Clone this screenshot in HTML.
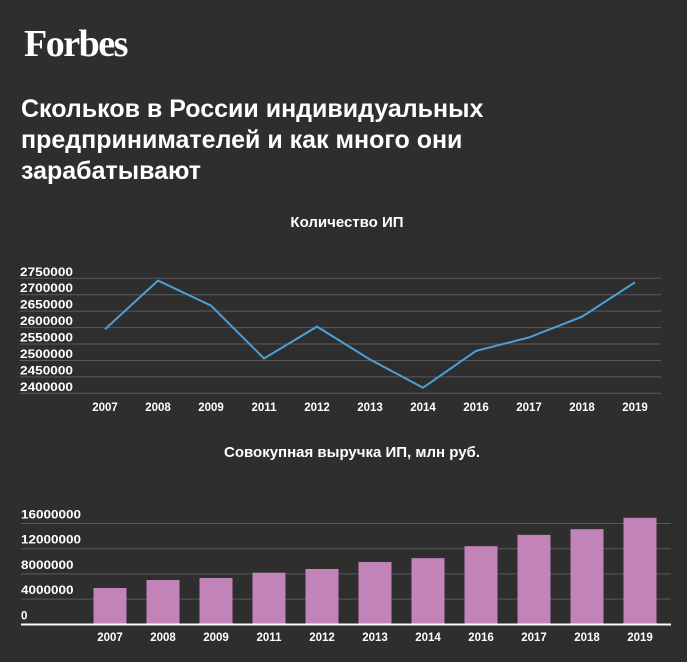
<!DOCTYPE html>
<html><head><meta charset="utf-8"><style>
html,body{margin:0;padding:0;background:#2e2e2e;}
body{width:687px;height:662px;overflow:hidden;position:relative;font-family:"Liberation Sans","Noto Sans CJK SC",sans-serif;color:#fff;}
.logo{position:absolute;left:24px;top:22px;font-family:"Liberation Serif",serif;font-weight:bold;font-size:38px;letter-spacing:-1.5px;}
.title{position:absolute;left:21px;top:94px;font-weight:bold;font-size:25px;line-height:31px;width:500px;}
svg{position:absolute;left:0;top:0;}
</style></head><body>
<div class="logo">Forbes</div>
<div class="title">Скольков в России индивидуальных<br>предпринимателей и как много они<br>зарабатывают</div>
<svg id="c" width="687" height="662"></svg>
<script>
const years=["2007","2008","2009","2011","2012","2013","2014","2016","2017","2018","2019"];
const counts=[2595000,2743000,2667000,2506000,2603000,2503000,2417000,2529000,2570000,2633000,2738000];
const countTicks=[2400000,2450000,2500000,2550000,2600000,2650000,2700000,2750000];
const revenue=[5760000,7030000,7350000,8190000,8780000,9890000,10500000,12400000,14200000,15100000,16900000];
const revTicks=[0,4000000,8000000,12000000,16000000];
const NS="http://www.w3.org/2000/svg";
const svg=document.getElementById('c');
function mk(t,a,txt){const e=document.createElementNS(NS,t);for(const k in a)e.setAttribute(k,a[k]);if(txt!=null)e.textContent=txt;svg.appendChild(e);return e;}
const xs=i=>105+i*53;
const y1=v=>393.3-(v-2400000)/350000*115;
let t=mk('text',{x:347,y:227,'text-anchor':'middle','font-size':15,'font-weight':'bold',fill:'#fff'},'Количество ИП');


countTicks.forEach(v=>{
 let l=mk('line',{x1:20,x2:661,y1:y1(v),y2:y1(v),stroke:'#5a5a5a','stroke-width':1});
 
 
 let tx=mk('text',{x:20,y:y1(v)-2.5,'font-size':11.5,'font-weight':'bold',fill:'#fff',textLength:53,lengthAdjust:'spacingAndGlyphs'},String(v));
 
 
});
let pl=mk('polyline',{points:counts.map((v,i)=>xs(i)+','+y1(v)).join(' '),fill:'none',stroke:'#4e9fd6','stroke-width':2});


years.forEach((y,i)=>{
 let tx=mk('text',{x:xs(i),y:411,'text-anchor':'middle','font-size':11.5,'font-weight':'bold',fill:'#fff'},y);
 
 
});
const y2=v=>624.3-v/4000000*25.2;
t=mk('text',{x:352,y:457,'text-anchor':'middle','font-size':15,'font-weight':'bold',fill:'#fff'},'Совокупная выручка ИП, млн руб.');


revTicks.forEach(v=>{
 if(v>0){let l=mk('line',{x1:21,x2:671,y1:y2(v),y2:y2(v),stroke:'#5a5a5a','stroke-width':1});
 
 }
 let tx=mk('text',{x:21,y:y2(v)-5,'font-size':11.5,'font-weight':'bold',fill:'#fff'},String(v));
 if(v>0){tx.setAttribute('textLength',String(v).length*7.5);tx.setAttribute('lengthAdjust','spacingAndGlyphs');}
 
 
});
revenue.forEach((v,i)=>{
 let r=mk('rect',{x:xs(i)-11.5,y:y2(v),width:33,height:624.3-y2(v),fill:'#c283b9'});
 
 
 let tx=mk('text',{x:xs(i)+5,y:641,'text-anchor':'middle','font-size':11.5,'font-weight':'bold',fill:'#fff'},years[i]);
 
 
});
let ax=mk('line',{x1:21,x2:671,y1:624.5,y2:624.5,stroke:'#fff','stroke-width':2});


</script>
</body></html>
